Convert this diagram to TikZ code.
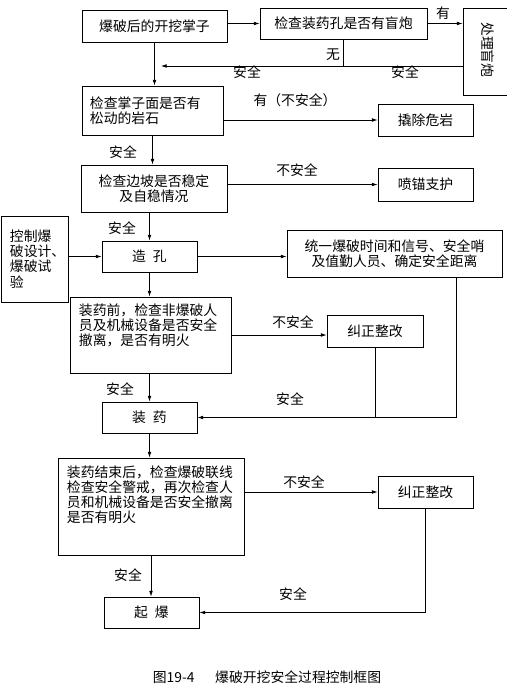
\documentclass[tikz,border=0pt]{standalone}
\usepackage{fontspec}
\setmainfont{Noto Sans CJK SC}
\usetikzlibrary{arrows.meta}

\begin{document}
\begin{tikzpicture}[x=0.03cm, y=-0.03cm, line width=0.6pt,
    every node/.style={font=\fontsize{11.8}{13}\selectfont},
    box/.style={draw, rectangle, inner sep=0pt, line width=0.6pt},
    arr/.style={-{Latex[length=5pt,width=3.2pt]}}]

    \useasboundingbox (0,0) rectangle (507,699);

    % top row
    \node[box, minimum width=4.35cm, minimum height=0.96cm] (face) at (154.5,26) {爆破后的开挖掌子};
    \node[box, minimum width=5.01cm, minimum height=0.93cm] (misfire) at (343.5,23.5) {检查装药孔是否有盲炮};
    \node[box, minimum width=1.41cm, minimum height=2.61cm] (treat) at (486.5,51.5) {};
    \node[rotate=-90] (treattxt) at (488,50) {处理盲炮};
    \coordinate (ret) at (155,66);

    \draw[arr] (face.east |- misfire.west) -- (misfire.west);
    \draw[arr] (misfire.east) -- (misfire.east -| treat.west);
    \node (yes1) at (443,13) {有};
    \draw (misfire.south) -- (misfire.south |- ret);
    \node (no1) at (333,55) {无};
    \draw[arr] (treat.west |- ret) -- ([xshift=5pt]ret);
    \node (safe1) at (247,72) {安全};
    \node (safe2) at (405,72) {安全};

    % loose rock
    \node[box, minimum height=1.47cm, text width=3.75cm, inner xsep=0.24cm, align=left] (rock) at (152.5,110.5) {检查掌子面是否有\\松动的岩石};
    \draw[arr] (face.south) -- (face.south |- rock.north);
    \node[box, minimum width=2.85cm, minimum height=0.96cm] (scale) at (425.5,120) {撬除危岩};
    \draw[arr] (scale.west -| rock.east) -- (scale.west);
    \node (yes2) at (295,100) {有（不安全）};

    % slope
    \node[box, minimum width=4.38cm, minimum height=1.41cm, align=center] (slope) at (154,188.5) {检查边坡是否稳定\\及自稳情况};
    \draw[arr] (rock.south) -- (rock.south |- slope.north);
    \node (safe3) at (123,152) {安全};
    \node[box, minimum width=2.85cm, minimum height=0.99cm] (bolt) at (425.5,184.5) {喷锚支护};
    \draw[arr] (bolt.west -| slope.east) -- (bolt.west);
    \node (unsafe1) at (297,170) {不安全};

    % drilling
    \node[box, minimum height=2.58cm, text width=1.47cm, inner xsep=0.27cm, align=left] (design) at (34.5,259) {控制爆\\破设计、\\爆破试\\验};
    \node[box, minimum width=2.85cm, minimum height=0.93cm] (drill) at (149.5,256.5) {造\hspace{0.5em}孔};
    \draw[arr] (drill.north |- slope.south) -- (drill.north);
    \node (safe4) at (122,228) {安全};
    \draw[arr] (drill.west -| design.east) -- (drill.west);
    \node[box, minimum width=6.45cm, minimum height=1.41cm, align=center] (signal) at (394.5,253.5) {统一爆破时间和信号、安全哨\\及值勤人员、确定安全距离};
    \draw[arr] (drill.east) -- (drill.east -| signal.west);

    % before charging
    \node[box, minimum width=4.83cm, minimum height=2.28cm] (precheck) at (150.5,335) {};
    \node[anchor=north west, align=left, inner sep=0pt] (pretxt) at ([shift={(0.27cm,-0.2cm)}]precheck.north west) {装药前，检查非爆破人\\员及机械设备是否安全\\撤离，是否有明火};
    \draw[arr] (drill.south) -- (drill.south |- precheck.north);
    \node[box, minimum width=2.88cm, minimum height=0.96cm] (fix1) at (375,331) {纠正整改};
    \draw[arr] (precheck.east) -- (precheck.east -| fix1.west);
    \node (unsafe2) at (293,322) {不安全};

    % charging
    \node[box, minimum width=2.85cm, minimum height=0.93cm] (charge) at (149.5,417.5) {装\hspace{0.5em}药};
    \draw[arr] (charge.north |- precheck.south) -- (charge.north);
    \node (safe5) at (120,389) {安全};
    \coordinate (join) at (456,417.5);
    \draw[arr] (join |- signal.south) -- (join) -- (charge.east);
    \draw (fix1.south) -- (fix1.south |- join);
    \node (safe6) at (290,399) {安全};

    % after charging
    \node[box, minimum width=5.58cm, minimum height=2.91cm] (postcheck) at (151,506.5) {};
    \node[anchor=north west, align=left, inner sep=0pt] (posttxt) at ([shift={(0.27cm,-0.22cm)}]postcheck.north west) {装药结束后，检查爆破联线\\检查安全警戒，再次检查人\\员和机械设备是否安全撤离\\是否有明火};
    \draw[arr] (charge.south) -- (charge.south |- postcheck.north);
    \node[box, minimum width=2.85cm, minimum height=0.96cm] (fix2) at (425.5,492) {纠正整改};
    \draw[arr] (fix2.west -| postcheck.east) -- (fix2.west);
    \node (unsafe3) at (304,482) {不安全};

    % firing
    \node[box, minimum width=2.85cm, minimum height=0.93cm] (fire) at (151.5,612.5) {起\hspace{0.5em}爆};
    \draw[arr] (postcheck.south) -- (postcheck.south |- fire.north);
    \node (safe7) at (128,575) {安全};
    \draw[arr] (fix2.south) -- (fix2.south |- fire.east) -- (fire.east);
    \node (safe8) at (293,594) {安全};

    % caption
    \node (cap) at (267,677) {图19-4\hspace{1.5em}爆破开挖安全过程控制框图};

\end{tikzpicture}
\end{document}
